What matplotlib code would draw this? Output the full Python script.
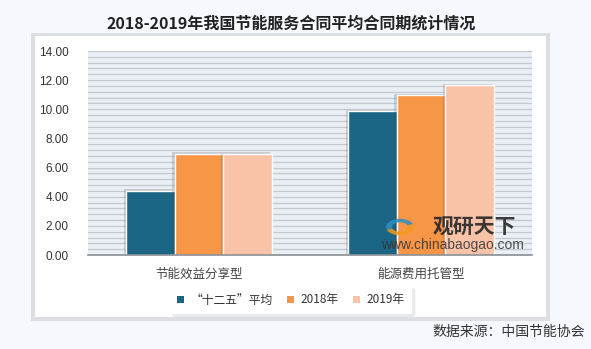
import numpy as np
import matplotlib.pyplot as plt
from matplotlib.patches import Patch, Rectangle, Wedge
import matplotlib.patheffects as pe

plt.rcParams['font.family'] = ['Noto Sans CJK SC', 'DejaVu Sans']

# data
categories = ['节能效益分享型', '能源费用托管型']
series_names = ['“十二五”平均', '2018年', '2019年']
avg_12th = [4.4, 9.85]
y2018 = [6.95, 10.95]
y2019 = [6.95, 11.65]
colors = ['#1b6585', '#f79646', '#f9c3a8']

fig = plt.figure(figsize=(5.91, 3.49), dpi=100)
fig.patch.set_facecolor('#f5f9fd')

# white card behind the chart, with a soft grey border
W, H = 591, 349
fig.patches.append(Rectangle((31 / W, 1 - 321 / H), 519 / W, 288 / H,
                             transform=fig.transFigure, facecolor='#dcdee1',
                             edgecolor='none', zorder=-5))
fig.patches.append(Rectangle((35 / W, 1 - 317 / H), 511 / W, 281 / H,
                             transform=fig.transFigure, facecolor='white',
                             edgecolor='none', zorder=-4))

ax = fig.add_axes([88 / W, 1 - 255 / H, 444 / W, 204 / H])
ax.set_facecolor('#e9eff4')

x = np.arange(len(categories))
bw = 0.22
shadow = [pe.SimplePatchShadow(offset=(-1.5, 1), alpha=0.2, shadow_rgbFace='#444444'), pe.Normal()]
for i, (vals, c) in enumerate(zip([avg_12th, y2018, y2019], colors)):
    ax.bar(x + (i - 1) * bw, vals, width=bw, color=c, edgecolor='white',
           linewidth=1, zorder=3, path_effects=shadow)

ax.set_xlim(-0.5, 1.5)
ax.set_ylim(0, 14)
ax.set_yticks(np.arange(0, 14.01, 2))
ax.set_yticklabels([f'{v:.2f}' for v in np.arange(0, 14.01, 2)], fontsize=8.5, color='#333333',
                   family='Liberation Sans')
ax.set_yticks(np.arange(0, 14.01, 0.4), minor=True)
ax.grid(axis='y', which='both', color='#c3c8ce', linewidth=0.9, zorder=1)
ax.tick_params(axis='y', which='both', length=0, pad=14)
ax.set_xticks(x)
ax.set_xticklabels(categories, fontsize=9, color='#444444')
ax.tick_params(axis='x', length=0, pad=9)
for s in ['left', 'right', 'top']:
    ax.spines[s].set_visible(False)
ax.spines['bottom'].set_color('#8a8f94')
ax.spines['bottom'].set_linewidth(1.2)
ax.spines['bottom'].set_zorder(4)

# watermark: swirl logo + name + site
lx, ly = 400, 227
for th1, th2, col in [(20, 200, '#2d8fc4'), (200, 380, '#f39a1e')]:
    fig.patches.append(Wedge((lx / W, 1 - ly / H), 14 / W, th1, th2, width=6 / W,
                             transform=fig.transFigure, facecolor=col, edgecolor='none',
                             alpha=0.85, zorder=6))
ax.text(0.87, 0.137, '观研天下', transform=ax.transAxes, fontsize=15, fontweight='bold',
        color='#262626', ha='center', va='center', zorder=5, alpha=0.9)
ax.text(0.82, 0.05, 'www.chinabaogao.com', transform=ax.transAxes, fontsize=10,
        color='#333333', ha='center', va='center', zorder=5, alpha=0.85,
        family='Liberation Sans')

handles = [Patch(facecolor=c, edgecolor='none') for c in colors]
leg = fig.legend(handles, series_names, loc='center', bbox_to_anchor=(291 / W, 1 - 300 / H),
                 ncol=3, fontsize=8.5, frameon=True, handlelength=0.55, handleheight=0.55,
                 handletextpad=0.6, columnspacing=1.2, borderpad=0.6,
                 shadow={'color': '#e6e8ea', 'alpha': 0.9})
leg.get_frame().set_edgecolor('none')
leg.get_frame().set_facecolor('white')
for t in leg.get_texts():
    t.set_color('#333333')

fig.text(291 / W, 1 - 24 / H, '2018-2019年我国节能服务合同平均合同期统计情况',
         ha='center', va='center', fontsize=11.5, fontweight='bold', color='#222222')
fig.text(585 / W, 1 - 332 / H, '数据来源：中国节能协会', ha='right', va='center',
         fontsize=10, color='#333333')

fig.savefig('out.png', dpi=100, facecolor=fig.get_facecolor())
